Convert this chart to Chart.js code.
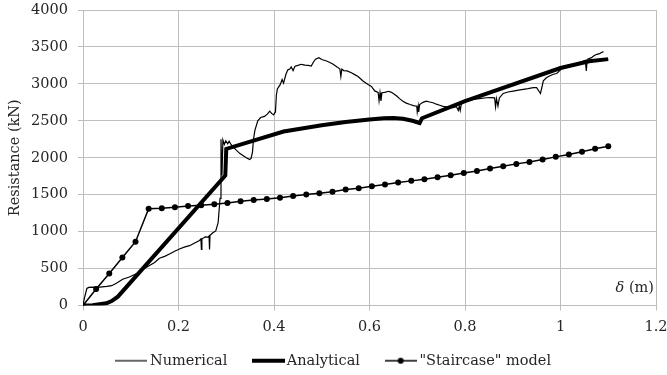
<!DOCTYPE html>
<html>
<head>
<meta charset="utf-8">
<script src="https://cdn.jsdelivr.net/npm/chart.js@4.4.0/dist/chart.umd.min.js"></script>
<style>
  html, body { margin: 0; padding: 0; background: #fff; }
</style>
</head>
<body>
<canvas id="resChart" width="667" height="375"></canvas>
<script>
// Numerical model (thin noisy curve)
const numDelta = [0, 0.003, 0.008, 0.012, 0.02, 0.03, 0.04, 0.05, 0.06, 0.07, 0.083, 0.097, 0.115, 0.132, 0.15, 0.16, 0.171, 0.182, 0.192, 0.202, 0.212, 0.223, 0.235, 0.244, 0.247, 0.248, 0.249, 0.256, 0.262, 0.264, 0.265, 0.266, 0.272, 0.278, 0.283, 0.287, 0.289, 0.291, 0.293, 0.296, 0.299, 0.303, 0.306, 0.31, 0.314, 0.32, 0.328, 0.335, 0.342, 0.349, 0.352, 0.355, 0.357, 0.36, 0.366, 0.372, 0.38, 0.386, 0.391, 0.395, 0.399, 0.403, 0.405, 0.407, 0.413, 0.417, 0.42, 0.425, 0.429, 0.433, 0.436, 0.44, 0.444, 0.45, 0.457, 0.465, 0.472, 0.478, 0.483, 0.487, 0.494, 0.5, 0.51, 0.517, 0.524, 0.532, 0.538, 0.54, 0.542, 0.546, 0.553, 0.562, 0.569, 0.576, 0.587, 0.597, 0.604, 0.611, 0.618, 0.62, 0.622, 0.624, 0.626, 0.632, 0.64, 0.646, 0.652, 0.657, 0.663, 0.67, 0.677, 0.685, 0.692, 0.699, 0.7, 0.702, 0.703, 0.705, 0.712, 0.719, 0.726, 0.733, 0.74, 0.747, 0.754, 0.761, 0.768, 0.775, 0.782, 0.786, 0.788, 0.79, 0.792, 0.796, 0.8, 0.81, 0.817, 0.83, 0.845, 0.855, 0.862, 0.864, 0.866, 0.869, 0.872, 0.88, 0.89, 0.901, 0.912, 0.922, 0.932, 0.943, 0.95, 0.955, 0.958, 0.962, 0.964, 0.971, 0.978, 0.985, 0.992, 1.0, 1.006, 1.015, 1.027, 1.04, 1.052, 1.054, 1.056, 1.065, 1.07, 1.076, 1.082, 1.086, 1.09];
const numForce = [0, 100, 230, 245, 250, 245, 252, 258, 268, 300, 355, 385, 440, 515, 583, 640, 665, 700, 735, 765, 790, 810, 850, 880, 900, 760, 900, 930, 925, 940, 760, 950, 985, 1010, 1120, 1450, 2250, 1760, 2240, 2180, 2230, 2190, 2225, 2180, 2150, 2110, 2060, 2030, 2000, 1975, 1990, 2080, 2250, 2370, 2500, 2545, 2560, 2590, 2630, 2600, 2580, 2620, 2850, 2930, 2990, 3060, 3010, 3130, 3190, 3200, 3230, 3180, 3240, 3250, 3265, 3255, 3250, 3240, 3300, 3335, 3355, 3330, 3310, 3290, 3265, 3230, 3200, 3100, 3200, 3180, 3175, 3150, 3125, 3100, 3035, 2990, 2965, 2905, 2885, 2770, 2880, 2770, 2880, 2885, 2900, 2885, 2860, 2835, 2800, 2765, 2740, 2720, 2705, 2698, 2620, 2700, 2620, 2720, 2750, 2765, 2755, 2745, 2725, 2710, 2695, 2688, 2680, 2677, 2690, 2640, 2700, 2640, 2720, 2750, 2780, 2780, 2790, 2800, 2812, 2815, 2810, 2690, 2800, 2700, 2810, 2870, 2890, 2902, 2915, 2925, 2935, 2948, 2950, 2900, 2870, 2980, 3040, 3085, 3110, 3130, 3140, 3190, 3220, 3245, 3262, 3290, 3320, 3175, 3330, 3355, 3380, 3400, 3410, 3425, 3436];

// Analytical model (thick curve)
const anaDelta = [0, 0.02, 0.049, 0.06, 0.073, 0.298, 0.3, 0.42, 0.5, 0.55, 0.6, 0.63, 0.65, 0.67, 0.69, 0.705, 0.71, 0.8, 1.0, 1.06, 1.1];
const anaForce = [0, 5, 30, 60, 120, 1760, 2120, 2355, 2440, 2485, 2518, 2535, 2538, 2527, 2500, 2470, 2535, 2765, 3215, 3305, 3335];

// "Staircase" model (line with markers)
const stairDelta = [0, 0.0275, 0.055, 0.0825, 0.11, 0.1375, 0.165, 0.1925, 0.22, 0.2475, 0.275, 0.3025, 0.33, 0.3575, 0.385, 0.4125, 0.44, 0.4675, 0.495, 0.5225, 0.55, 0.5775, 0.605, 0.6325, 0.66, 0.6875, 0.715, 0.7425, 0.77, 0.7975, 0.825, 0.8525, 0.88, 0.9075, 0.935, 0.9625, 0.99, 1.0175, 1.045, 1.0725, 1.1];
const stairForce = [0, 222, 434, 651, 864, 1311, 1315, 1329, 1347, 1356, 1370, 1388, 1410, 1429, 1443, 1460, 1483, 1501, 1519, 1540, 1569, 1587, 1614, 1637, 1664, 1687, 1709, 1736, 1763, 1795, 1822, 1854, 1885, 1917, 1944, 1976, 2012, 2043, 2080, 2121, 2156];

const seriesNames = ['Numerical', 'Analytical', '"Staircase" model'];

const fontFamily = "'DejaVu Serif', serif";
const textColor = '#262626';
const gridColor = '#bdbdbd';

const makeXY = (xs, ys) => xs.map((x, i) => ({x: x, y: ys[i]}));

// little line samples for the legend
const legendIcon = (w, lineWidth, dot) => {
    const c = document.createElement('canvas');
    c.width = w;
    c.height = 10;
    const g = c.getContext('2d');
    g.strokeStyle = '#000';
    g.lineWidth = lineWidth;
    g.beginPath();
    g.moveTo(0, 5);
    g.lineTo(w, 5);
    g.stroke();
    if (dot) {
        g.fillStyle = '#000';
        g.beginPath();
        g.arc(w / 2, 5, 3, 0, Math.PI * 2);
        g.fill();
    }
    return c;
};
const legendIcons = [legendIcon(32, 1.2, false), legendIcon(33, 4, false), legendIcon(32, 1.5, true)];

// "δ (m)" written inside the plot, bottom right
const deltaLabel = {
    id: 'deltaLabel',
    afterDraw: (chart) => {
        const {ctx, chartArea} = chart;
        const y = chartArea.bottom - 17;
        ctx.save();
        ctx.fillStyle = textColor;
        ctx.textBaseline = 'middle';
        ctx.textAlign = 'right';
        ctx.font = '14.5px ' + fontFamily;
        const unit = '(m)';
        const xr = chartArea.right - 2;
        ctx.fillText(unit, xr, y);
        const uw = ctx.measureText(' ' + unit).width;
        ctx.font = 'italic 14.5px ' + fontFamily;
        ctx.fillText('\u03b4', xr - uw, y);
        ctx.restore();
    }
};

Chart.defaults.font.family = fontFamily;
Chart.defaults.font.size = 14.5;
Chart.defaults.color = textColor;

const ctx = document.getElementById('resChart');

new Chart(ctx, {
    type: 'scatter',
    data: {
        datasets: [
            {
                label: seriesNames[0],
                data: makeXY(numDelta, numForce),
                showLine: true,
                borderColor: '#000',
                borderWidth: 1.2,
                pointRadius: 0,
                tension: 0
            },
            {
                label: seriesNames[1],
                data: makeXY(anaDelta, anaForce),
                showLine: true,
                borderColor: '#000',
                borderWidth: 4,
                pointRadius: 0,
                tension: 0
            },
            {
                label: seriesNames[2],
                data: makeXY(stairDelta, stairForce),
                showLine: true,
                borderColor: '#000',
                borderWidth: 1.5,
                pointRadius: 3,
                pointBackgroundColor: '#000',
                pointBorderWidth: 0,
                tension: 0
            }
        ]
    },
    options: {
        responsive: false,
        devicePixelRatio: 1,
        animation: false,
        layout: {
            padding: {left: 24, right: 11, top: 10, bottom: -3}
        },
        scales: {
            x: {
                type: 'linear',
                min: 0,
                max: 1.2,
                ticks: {
                    stepSize: 0.2,
                    padding: 8,
                    maxRotation: 0,
                    callback: (v) => String(Math.round(v * 10) / 10)
                },
                grid: {color: gridColor, tickLength: 5},
                border: {color: gridColor},
                afterFit: (s) => {
                    s.height = 28;
                    s.paddingLeft = 0;
                    s.paddingRight = 0;
                }
            },
            y: {
                min: 0,
                max: 4000,
                ticks: {
                    stepSize: 500,
                    padding: 10,
                    callback: (v) => String(v)
                },
                grid: {color: gridColor, tickLength: 5},
                border: {color: gridColor},
                title: {
                    display: true,
                    text: 'Resistance (kN)',
                    padding: {top: -17.5, bottom: 4}
                },
                afterFit: (s) => {
                    s.width = 59;
                    s.paddingTop = 0;
                    s.paddingBottom = 0;
                }
            }
        },
        plugins: {
            legend: {
                position: 'bottom',
                labels: {
                    usePointStyle: true,
                    pointStyleWidth: 23,
                    padding: 20,
                    // two trailing no-break spaces widen the gap before the next entry
                    generateLabels: (chart) => Chart.defaults.plugins.legend.labels.generateLabels(chart)
                        .map((item, i) => Object.assign(item, {
                            pointStyle: legendIcons[i],
                            text: item.text + '\u00a0\u00a0'
                        }))
                }
            },
            tooltip: {
                enabled: false
            }
        }
    },
    plugins: [deltaLabel]
});
</script>
</body>
</html>
